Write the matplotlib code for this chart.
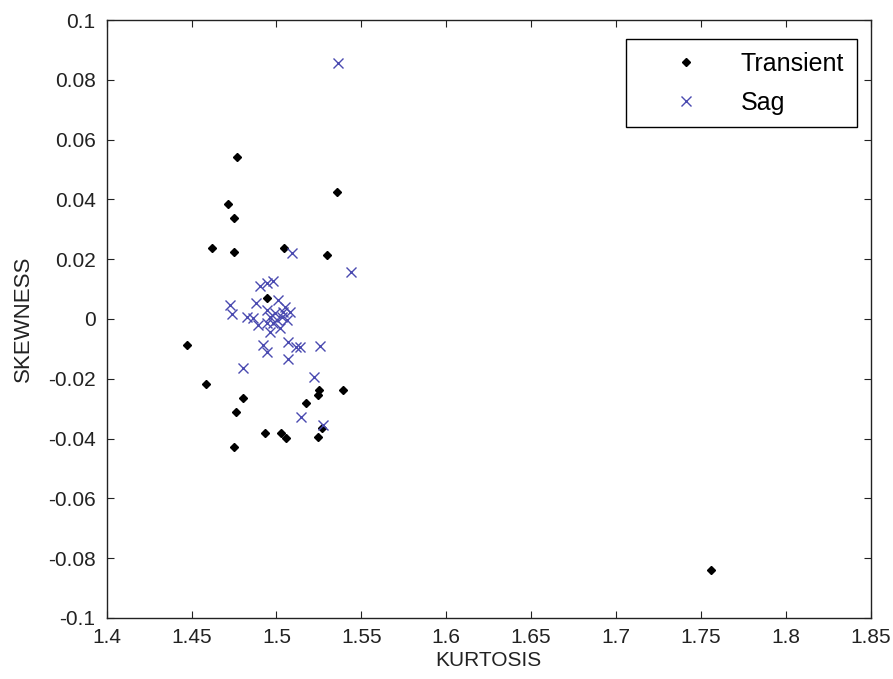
import matplotlib
matplotlib.use("Agg")
import matplotlib.pyplot as plt

plt.rcParams["font.family"] = ["Liberation Sans", "DejaVu Sans"]

# Transient points (kurtosis, skewness)
transient_kurt = [1.4769, 1.5358, 1.4716, 1.4750, 1.4622, 1.4750, 1.5046, 1.5296,
                  1.4946, 1.4471, 1.4585, 1.4801, 1.4762, 1.4934, 1.5027, 1.5056,
                  1.4750, 1.5172, 1.5252, 1.5243, 1.5390, 1.5245, 1.5270, 1.7559]
transient_skew = [0.0542, 0.0426, 0.0384, 0.0337, 0.0237, 0.0225, 0.0238, 0.0213,
                  0.0071, -0.0086, -0.0217, -0.0263, -0.0311, -0.0383, -0.0380, -0.0397,
                  -0.0428, -0.0282, -0.0239, -0.0254, -0.0239, -0.0394, -0.0364, -0.0840]

# Sag points
sag_kurt = [1.5361, 1.5091, 1.5441, 1.4903, 1.4942, 1.4981, 1.4726, 1.4736,
            1.4825, 1.4922, 1.4946, 1.5070, 1.5115, 1.5139, 1.5256, 1.5070,
            1.4801, 1.5221, 1.5143, 1.5276, 1.4879, 1.4863, 1.4893, 1.5011,
            1.5050, 1.5080, 1.5060, 1.5021, 1.4962, 1.4942, 1.4962, 1.4991,
            1.5001, 1.5031, 1.4981, 1.4942, 1.5040]
sag_skew = [0.0855, 0.0222, 0.0157, 0.0111, 0.0119, 0.0128, 0.0047, 0.0017,
            0.0008, -0.0087, -0.0111, -0.0076, -0.0095, -0.0095, -0.0089, -0.0134,
            -0.0165, -0.0195, -0.0329, -0.0355, 0.0053, 0.0002, -0.0020, 0.0064,
            0.0041, 0.0024, -0.0003, -0.0031, -0.0042, 0.0030, 0.0008, 0.0019,
            -0.0003, 0.0008, -0.0014, -0.0014, 0.0024]

x_ticks = [1.4, 1.45, 1.5, 1.55, 1.6, 1.65, 1.7, 1.75, 1.8, 1.85]
y_ticks = [-0.1, -0.08, -0.06, -0.04, -0.02, 0, 0.02, 0.04, 0.06, 0.08, 0.1]

fig = plt.figure(figsize=(8.93, 6.79), dpi=100)
ax = fig.add_axes([0.1195, 0.0899, 0.8555, 0.8806])

ax.plot(transient_kurt, transient_skew, "D", color="black", markersize=4.2,
        label="Transient")
ax.plot(sag_kurt, sag_skew, "x", color="#4a4ab0", markersize=7, mew=1.0,
        linestyle="none", label="Sag")

ax.set_xlim(1.4, 1.85)
ax.set_ylim(-0.1, 0.1)
ax.set_xticks(x_ticks)
ax.set_xticklabels([f"{t:g}" for t in x_ticks])
ax.set_yticks(y_ticks)
ax.set_yticklabels([f"{t:g}" for t in y_ticks])
ax.tick_params(direction="in", length=5, top=True, right=True,
               labelsize=15, colors="#222222")
ax.tick_params(axis="x", pad=7)
ax.tick_params(axis="y", pad=8)
for s in ax.spines.values():
    s.set_linewidth(1.0)
    s.set_color("#222222")

ax.set_xlabel("KURTOSIS", fontsize=15, color="#222222", labelpad=3)
ax.set_ylabel("SKEWNESS", fontsize=16, color="#222222", labelpad=10)

leg = ax.legend(loc="upper right", bbox_to_anchor=(0.9817, 0.968), fontsize=18,
                fancybox=False, edgecolor="black", framealpha=1,
                borderpad=0.5, handletextpad=0.3, borderaxespad=0,
                handlelength=3.8, labelspacing=0.6)
leg.get_frame().set_linewidth(1.0)

fig.savefig("out.png", dpi=100)
